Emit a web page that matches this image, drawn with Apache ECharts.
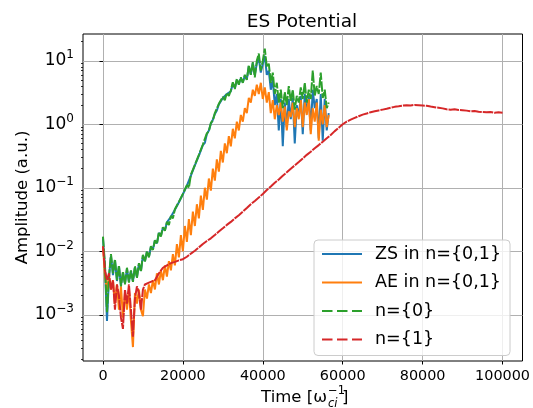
<!DOCTYPE html>
<html>
<head>
<meta charset="utf-8">
<script src="https://cdn.jsdelivr.net/npm/echarts@6/dist/echarts.min.js"></script>
<style>
  html, body { margin: 0; padding: 0; background: #fff; }
  #chart { width: 533px; height: 408px; }
</style>
</head>
<body>
<div id="chart"></div>
<script>
// sampling step of the fast (ZS / AE / n={0}) runs, time in 1/omega_ci
const fastStep = 500

const zsAmp = [
  0.016, 0.0055, 0.0008, 0.0038, 0.0085, 0.0042, 0.0072, 0.0034, 0.0058, 0.0029,
  0.0046, 0.0031, 0.0053, 0.0033, 0.0049, 0.0034, 0.0056, 0.0039, 0.0063, 0.0049,
  0.0086, 0.007, 0.0098, 0.0082, 0.0118, 0.0107, 0.0148, 0.0133, 0.0195, 0.0175,
  0.0235, 0.0215, 0.0285, 0.0268, 0.035, 0.034, 0.045, 0.044, 0.059, 0.057,
  0.079, 0.08, 0.108, 0.102, 0.155, 0.152, 0.225, 0.225, 0.32, 0.33,
  0.47, 0.51, 0.7, 0.8, 1.02, 1.18, 1.45, 1.65, 2.05, 2.05,
  2.6, 2.5, 3.0, 2.9, 3.3, 4.4, 3.7, 5.0, 4.3, 5.3,
  4.6, 5.8, 5.1, 8.2, 6.1, 9.2, 6, 9, 11, 6.5,
  9, 12, 6, 7, 3.5, 5, 2, 3, 0.8, 2.5,
  0.45, 2.2, 0.9, 2.5, 1.2, 2.6, 0.5, 2, 1.3, 2.8,
  0.7, 3, 1.5, 2.8, 0.8, 3.5, 1.8, 2.5, 0.6, 3,
  0.55, 2.5, 0.8, 1.5
]

const aeAmp = [
  0.012, 0.004, 0.0025, 0.004, 0.0025, 0.0035, 0.0015, 0.003, 0.0012, 0.0028,
  0.0009, 0.0022, 0.0012, 0.0025, 0.0008, 0.00031, 0.0022, 0.0015, 0.0025, 0.0012,
  0.00095, 0.0025, 0.0018, 0.003, 0.0022, 0.0035, 0.0025, 0.0045, 0.003, 0.005,
  0.0035, 0.006, 0.004, 0.007, 0.005, 0.009, 0.006, 0.013, 0.008, 0.018,
  0.01, 0.025, 0.014, 0.032, 0.018, 0.042, 0.025, 0.055, 0.033, 0.075,
  0.045, 0.1, 0.065, 0.14, 0.09, 0.2, 0.13, 0.28, 0.18, 0.38,
  0.25, 0.5, 0.35, 0.65, 0.45, 0.85, 0.6, 1.1, 0.8, 1.4,
  1.1, 1.8, 1.5, 2.6, 2.2, 3.5, 2.8, 4.2, 3, 4.5,
  2.5, 3.8, 2.2, 3.2, 1.5, 2.4, 1.2, 2, 1.4, 2.2,
  1.1, 1.9, 0.8, 1.6, 1.3, 2.2, 0.9, 1.8, 1.2, 2.4,
  0.9, 2.2, 1.4, 2.5, 0.7, 1.8, 1.1, 2.2, 0.55, 1.7,
  1.0, 2, 0.9, 1.4
]

const n0Amp = [
  0.017, 0.006, 0.0011, 0.004, 0.009, 0.0045, 0.0075, 0.0035, 0.006, 0.0028,
  0.0048, 0.003, 0.0055, 0.0032, 0.005, 0.0033, 0.0058, 0.0038, 0.0065, 0.0048,
  0.0088, 0.0068, 0.01, 0.008, 0.012, 0.0105, 0.015, 0.013, 0.02, 0.017,
  0.024, 0.021, 0.029, 0.026, 0.036, 0.033, 0.046, 0.043, 0.06, 0.056,
  0.08, 0.078, 0.11, 0.1, 0.16, 0.15, 0.23, 0.22, 0.33, 0.32,
  0.48, 0.5, 0.72, 0.78, 1.05, 1.15, 1.5, 1.6, 2.1, 2.0,
  2.7, 2.4, 3.1, 2.8, 3.4, 4.6, 3.6, 5.2, 4.2, 5.5,
  4.5, 6.0, 5.0, 8.5, 6.0, 9.5, 5.5, 10, 13, 7,
  10, 15.5, 8, 9, 4.5, 6.5, 3, 4.5, 2.2, 3.5,
  1.8, 3.2, 2, 4, 2.3, 3.5, 1.7, 2.8, 2.2, 3.8,
  2.5, 4.5, 2.2, 3.5, 2.5, 7, 2.8, 4, 3, 6.5,
  2.6, 3.5, 1.8, 2.2
]

const n1Time = [
  0, 500, 1000, 1500, 2000, 2500, 3000, 3500, 4000, 4500,
  5000, 5500, 6000, 6500, 7000, 7500, 8000, 8500, 9000, 9500,
  10000, 10500, 11000, 11500, 12000, 13000, 14000, 15000, 16000, 17000,
  18000, 19000, 20000, 21000, 22000, 23000, 24000, 25000, 26000, 27000,
  28000, 29000, 30000, 31000, 32000, 33000, 34000, 35000, 36000, 37000,
  38000, 39000, 40000, 41000, 42000, 43000, 44000, 45000, 46000, 47000,
  48000, 49000, 50000, 51000, 52000, 53000, 54000, 55000, 56000, 57000,
  58000, 59000, 60000, 61000, 62000, 63000, 64000, 65000, 66000, 67000,
  68000, 69000, 70000, 71000, 72000, 73000, 74000, 75000, 76000, 77000,
  78000, 79000, 80000, 81000, 82000, 83000, 84000, 85000, 86000, 87000,
  88000, 89000, 90000, 91000, 92000, 93000, 94000, 95000, 96000, 97000,
  98000, 99000, 100000
]

const n1Amp = [
  0.012, 0.005, 0.0035, 0.0045, 0.0025, 0.0035, 0.0012, 0.003, 0.002, 0.0009,
  0.0006, 0.0025, 0.0015, 0.003, 0.0012, 0.00045, 0.0018, 0.0028, 0.0022, 0.0012,
  0.0025, 0.003, 0.0028, 0.0032, 0.003, 0.0035, 0.0045, 0.0055, 0.006, 0.0065,
  0.0068, 0.0072, 0.0075, 0.0082, 0.0092, 0.0102, 0.0115, 0.013, 0.0145, 0.016,
  0.018, 0.0205, 0.023, 0.026, 0.029, 0.033, 0.037, 0.042, 0.048, 0.055,
  0.062, 0.07, 0.08, 0.092, 0.105, 0.12, 0.135, 0.155, 0.175, 0.2,
  0.225, 0.255, 0.29, 0.33, 0.37, 0.42, 0.47, 0.53, 0.6, 0.68,
  0.78, 0.88, 1.0, 1.1, 1.18, 1.26, 1.34, 1.42, 1.48, 1.55,
  1.6, 1.65, 1.7, 1.75, 1.82, 1.88, 1.92, 1.97, 2.0, 1.98,
  2.02, 2.0, 1.98, 1.95, 1.9, 1.86, 1.82, 1.78, 1.72, 1.7,
  1.72, 1.68, 1.66, 1.64, 1.6, 1.62, 1.58, 1.56, 1.54, 1.56,
  1.52, 1.54, 1.52
]

const xTicks = [0, 20000, 40000, 60000, 80000, 100000]
const yTicks = [1e-3, 1e-2, 1e-1, 1, 10]
const yMinorTicks = [
  2e-4, 3e-4, 4e-4, 5e-4, 6e-4, 7e-4, 8e-4, 9e-4,
  2e-3, 3e-3, 4e-3, 5e-3, 6e-3, 7e-3, 8e-3, 9e-3,
  2e-2, 3e-2, 4e-2, 5e-2, 6e-2, 7e-2, 8e-2, 9e-2,
  0.2, 0.3, 0.4, 0.5, 0.6, 0.7, 0.8, 0.9,
  2, 3, 4, 5, 6, 7, 8, 9, 20
]

const seriesNames = ['ZS in n={0,1}', 'AE in n={0,1}', 'n={0}', 'n={1}']
const colors = ['#1f77b4', '#ff7f0e', '#2ca02c', '#d62728']

function pairs(amp) {
  return amp.map((v, i) => [i * fastStep, v])
}

let myChart = echarts.init(document.getElementById('chart'), null, { renderer: 'canvas' })
const font = 'DejaVu Sans'

let option = {
  animation: false,
  backgroundColor: '#fff',
  color: colors,
  grid: {
    left: 83, top: 34, width: 440, height: 327,
    show: true, borderColor: '#000', borderWidth: 1, backgroundColor: 'transparent'
  },
  legend: {
    orient: 'vertical',
    left: 314, top: 240,
    padding: [5, 9, 7, 7],
    itemWidth: 40, itemHeight: 17, itemGap: 10.5,
    itemStyle: { opacity: 0 },
    backgroundColor: 'rgba(255,255,255,0.8)',
    borderColor: '#cccccc', borderWidth: 1, borderRadius: 4,
    textStyle: { fontFamily: font, fontSize: 17.5, color: '#000', padding: [0, 0, 0, 8] },
    data: [
      { name: seriesNames[0] },
      { name: seriesNames[1] },
      { name: seriesNames[2], lineStyle: { type: [10.5, 4.5] } },
      { name: seriesNames[3], lineStyle: { type: [10.5, 4.5] } }
    ]
  },
  graphic: [
    { type: 'text', x: 302, y: 22, style: { text: 'ES Potential', font: '18.5px DejaVu Sans', fill: '#000', align: 'center', verticalAlign: 'middle' } },
    { type: 'text', x: 327, y: 398, style: { text: 'Time [ω', font: '16.5px DejaVu Sans', fill: '#000', align: 'right', verticalAlign: 'middle' } },
    { type: 'text', x: 328, y: 391, style: { text: '−1', font: '11.5px DejaVu Sans', fill: '#000', align: 'left', verticalAlign: 'middle' } },
    { type: 'text', x: 328, y: 404, style: { text: 'ci', font: 'italic 11.5px DejaVu Sans', fill: '#000', align: 'left', verticalAlign: 'middle' } },
    { type: 'text', x: 342, y: 398, style: { text: ']', font: '16.5px DejaVu Sans', fill: '#000', align: 'left', verticalAlign: 'middle' } }
  ],
  xAxis: {
    type: 'value',
    min: -5000, max: 105000,
    splitNumber: 5,
    axisLine: { show: false },
    axisTick: { show: true, customValues: xTicks, length: 3.5, lineStyle: { color: '#000', width: 1 } },
    axisLabel: {
      customValues: xTicks,
      margin: 8, color: '#000', fontFamily: font, fontSize: 14.4,
      formatter: v => String(v)
    },
    splitLine: { show: true, lineStyle: { color: '#b0b0b0', width: 1 } }
  },
  yAxis: [{
    type: 'log', logBase: 10,
    min: 1.87e-4, max: 26.4,
    name: 'Amplitude (a.u.)',
    nameLocation: 'middle', nameGap: 52, nameRotate: 90,
    nameMoveOverlap: false,
    nameTextStyle: { fontFamily: font, fontSize: 16.5, color: '#000' },
    axisLine: { show: false },
    axisTick: { show: true, customValues: yTicks, length: 3.5, lineStyle: { color: '#000', width: 1 } },
    axisLabel: {
      customValues: yTicks,
      margin: 9, color: '#000', fontFamily: font,
      formatter: v => {
        const e = Math.round(Math.log10(v))
        return '{b|10}{s|' + (e < 0 ? '−' + (-e) : e) + '}'
      },
      rich: {
        b: { fontFamily: font, fontSize: 17, color: '#000' },
        s: { fontFamily: font, fontSize: 12, color: '#000', padding: [0, 0, 11, 0] }
      }
    },
    splitLine: { show: true, lineStyle: { color: '#b0b0b0', width: 1 } }
  }, {
    type: 'log', logBase: 10,
    min: 1.87e-4, max: 26.4,
    position: 'left',
    axisLine: { show: false },
    axisLabel: { show: false },
    axisTick: { show: true, customValues: yMinorTicks, length: 2, lineStyle: { color: '#000', width: 0.8 } },
    splitLine: { show: false }
  }],
  series: [
    {
      name: seriesNames[0], type: 'line', symbol: 'none',
      data: pairs(zsAmp),
      lineStyle: { width: 2, color: colors[0] }
    },
    {
      name: seriesNames[1], type: 'line', symbol: 'none',
      data: pairs(aeAmp),
      lineStyle: { width: 2, color: colors[1] }
    },
    {
      name: seriesNames[2], type: 'line', symbol: 'none',
      data: pairs(n0Amp),
      lineStyle: { width: 2, color: colors[2], type: [10.5, 1.5] }
    },
    {
      name: seriesNames[3], type: 'line', symbol: 'none',
      data: n1Time.map((t, i) => [t, n1Amp[i]]),
      lineStyle: { width: 2, color: colors[3], type: [10.5, 1] }
    }
  ]
}

myChart.setOption(option)
window.addEventListener('resize', function () {
  myChart.resize()
})
</script>
</body>
</html>
